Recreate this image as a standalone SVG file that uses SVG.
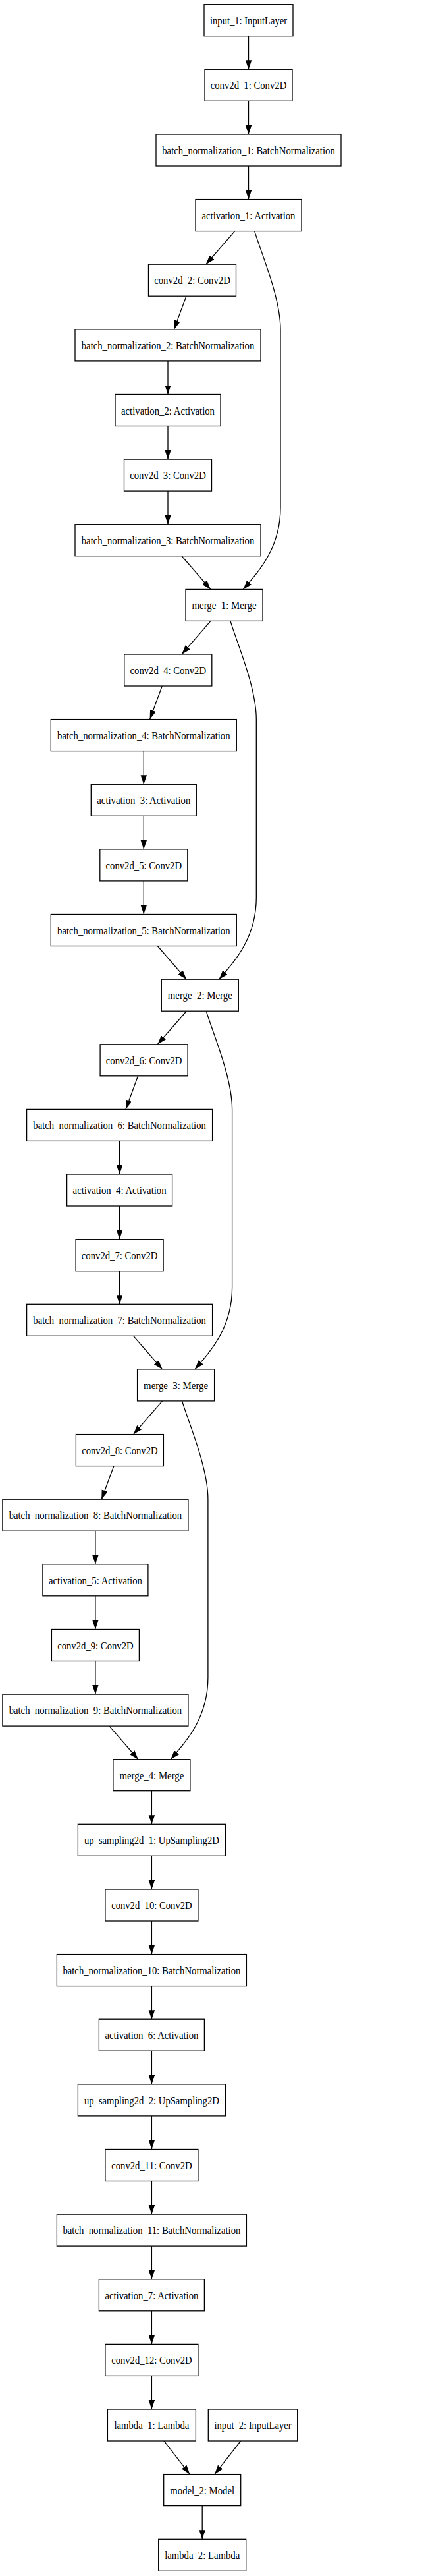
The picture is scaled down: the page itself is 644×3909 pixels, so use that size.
<svg xmlns="http://www.w3.org/2000/svg" width="644" height="3909" viewBox="0 0 644 3909">
<style>
.n rect{fill:#fff;stroke:#000;stroke-width:1.3}
.n text{font-family:"Liberation Serif","Times New Roman",serif;font-size:17.5px;text-anchor:middle;fill:#000}
.e path{fill:none;stroke:#000;stroke-width:1.3;marker-end:url(#ah)}
</style>
<defs>
<marker id="ah" markerUnits="userSpaceOnUse" markerWidth="15" markerHeight="10" refX="14" refY="4.7" orient="auto"><path d="M0,0 L14,4.7 L0,9.4 z" fill="#000"/></marker>
</defs>
<rect x="0" y="0" width="644" height="3909" fill="#fff"/>
<g id="edges" class="e">
<path d="M377.5,54.7 L377.5,105.3"/>
<path d="M377.5,153.3 L377.5,204"/>
<path d="M377.5,252 L377.5,302.6"/>
<path d="M356.7,350.6 L312.7,401.2"/>
<path d="M283,449.2 L264.3,499.9"/>
<path d="M255,547.9 L255,598.5"/>
<path d="M255,646.5 L255,697.1"/>
<path d="M255,745.1 L255,795.7"/>
<path d="M276,843.7 L320,894.4"/>
<path d="M386.7,350.6 C395,380 426,450 426,500 L426,770 C426,830 395,865 369.3,894.4"/>
<path d="M320,942.4 L276,993"/>
<path d="M246.3,1041 L227.6,1091.6"/>
<path d="M218.3,1139.6 L218.3,1190.3"/>
<path d="M218.3,1238.3 L218.3,1288.9"/>
<path d="M218.3,1336.9 L218.3,1387.5"/>
<path d="M239.3,1435.5 L283.3,1486.2"/>
<path d="M350,942.4 C358.3,971.8 389.3,1041.8 389.3,1091.8 L389.3,1361.8 C389.3,1421.8 358.3,1456.8 332.6,1486.2"/>
<path d="M283.3,1534.2 L239.3,1584.8"/>
<path d="M209.6,1632.8 L190.9,1683.4"/>
<path d="M181.6,1731.4 L181.6,1782"/>
<path d="M181.6,1830 L181.6,1880.7"/>
<path d="M181.6,1928.7 L181.6,1979.3"/>
<path d="M202.6,2027.3 L246.6,2077.9"/>
<path d="M313.3,1534.2 C321.6,1563.6 352.6,1633.6 352.6,1683.6 L352.6,1953.6 C352.6,2013.6 321.6,2048.6 295.9,2077.9"/>
<path d="M246.6,2125.9 L202.6,2176.6"/>
<path d="M172.9,2224.6 L154.2,2275.2"/>
<path d="M144.9,2323.2 L144.9,2373.8"/>
<path d="M144.9,2421.8 L144.9,2472.5"/>
<path d="M144.9,2520.5 L144.9,2571.1"/>
<path d="M165.9,2619.1 L209.9,2669.7"/>
<path d="M276.6,2125.9 C284.9,2155.3 315.9,2225.3 315.9,2275.3 L315.9,2545.3 C315.9,2605.3 284.9,2640.3 259.2,2669.7"/>
<path d="M230.4,2717.7 L230.4,2768.3"/>
<path d="M230.4,2816.3 L230.4,2867"/>
<path d="M230.4,2915 L230.4,2965.6"/>
<path d="M230.4,3013.6 L230.4,3064.2"/>
<path d="M230.4,3112.2 L230.4,3162.9"/>
<path d="M230.4,3210.9 L230.4,3261.5"/>
<path d="M230.4,3309.5 L230.4,3360.1"/>
<path d="M230.4,3408.1 L230.4,3458.8"/>
<path d="M230.4,3506.8 L230.4,3557.4"/>
<path d="M230.4,3605.4 L230.4,3656"/>
<path d="M249,3704 L288.3,3754.6"/>
<path d="M365.7,3704 L326,3754.6"/>
<path d="M307.2,3802.6 L307.2,3853.3"/>
</g>
<g id="input_1" class="n"><rect x="310" y="6.7" width="135" height="48"/><text x="377.5" y="36.7" textLength="117" lengthAdjust="spacingAndGlyphs">input_1: InputLayer</text></g>
<g id="conv2d_1" class="n"><rect x="311" y="105.3" width="133" height="48"/><text x="377.5" y="135.3" textLength="115.5" lengthAdjust="spacingAndGlyphs">conv2d_1: Conv2D</text></g>
<g id="batch_normalization_1" class="n"><rect x="237" y="204" width="281" height="48"/><text x="377.5" y="234" textLength="262.5" lengthAdjust="spacingAndGlyphs">batch_normalization_1: BatchNormalization</text></g>
<g id="activation_1" class="n"><rect x="297" y="302.6" width="161" height="48"/><text x="377.5" y="332.6" textLength="142" lengthAdjust="spacingAndGlyphs">activation_1: Activation</text></g>
<g id="conv2d_2" class="n"><rect x="225.5" y="401.2" width="133" height="48"/><text x="292" y="431.2" textLength="115.5" lengthAdjust="spacingAndGlyphs">conv2d_2: Conv2D</text></g>
<g id="batch_normalization_2" class="n"><rect x="114" y="499.9" width="282" height="48"/><text x="255" y="529.9" textLength="262.5" lengthAdjust="spacingAndGlyphs">batch_normalization_2: BatchNormalization</text></g>
<g id="activation_2" class="n"><rect x="175" y="598.5" width="160" height="48"/><text x="255" y="628.5" textLength="142" lengthAdjust="spacingAndGlyphs">activation_2: Activation</text></g>
<g id="conv2d_3" class="n"><rect x="188.5" y="697.1" width="133" height="48"/><text x="255" y="727.1" textLength="115.5" lengthAdjust="spacingAndGlyphs">conv2d_3: Conv2D</text></g>
<g id="batch_normalization_3" class="n"><rect x="114" y="795.7" width="282" height="48"/><text x="255" y="825.7" textLength="262.5" lengthAdjust="spacingAndGlyphs">batch_normalization_3: BatchNormalization</text></g>
<g id="merge_1" class="n"><rect x="282" y="894.4" width="117" height="48"/><text x="340.5" y="924.4" textLength="98" lengthAdjust="spacingAndGlyphs">merge_1: Merge</text></g>
<g id="conv2d_4" class="n"><rect x="188.8" y="993" width="133" height="48"/><text x="255.3" y="1023" textLength="115.5" lengthAdjust="spacingAndGlyphs">conv2d_4: Conv2D</text></g>
<g id="batch_normalization_4" class="n"><rect x="77.3" y="1091.6" width="282" height="48"/><text x="218.3" y="1121.6" textLength="262.5" lengthAdjust="spacingAndGlyphs">batch_normalization_4: BatchNormalization</text></g>
<g id="activation_3" class="n"><rect x="138.3" y="1190.3" width="160" height="48"/><text x="218.3" y="1220.3" textLength="142" lengthAdjust="spacingAndGlyphs">activation_3: Activation</text></g>
<g id="conv2d_5" class="n"><rect x="151.8" y="1288.9" width="133" height="48"/><text x="218.3" y="1318.9" textLength="115.5" lengthAdjust="spacingAndGlyphs">conv2d_5: Conv2D</text></g>
<g id="batch_normalization_5" class="n"><rect x="77.3" y="1387.5" width="282" height="48"/><text x="218.3" y="1417.5" textLength="262.5" lengthAdjust="spacingAndGlyphs">batch_normalization_5: BatchNormalization</text></g>
<g id="merge_2" class="n"><rect x="245.3" y="1486.2" width="117" height="48"/><text x="303.8" y="1516.2" textLength="98" lengthAdjust="spacingAndGlyphs">merge_2: Merge</text></g>
<g id="conv2d_6" class="n"><rect x="152.1" y="1584.8" width="133" height="48"/><text x="218.6" y="1614.8" textLength="115.5" lengthAdjust="spacingAndGlyphs">conv2d_6: Conv2D</text></g>
<g id="batch_normalization_6" class="n"><rect x="40.6" y="1683.4" width="282" height="48"/><text x="181.6" y="1713.4" textLength="262.5" lengthAdjust="spacingAndGlyphs">batch_normalization_6: BatchNormalization</text></g>
<g id="activation_4" class="n"><rect x="101.6" y="1782" width="160" height="48"/><text x="181.6" y="1812" textLength="142" lengthAdjust="spacingAndGlyphs">activation_4: Activation</text></g>
<g id="conv2d_7" class="n"><rect x="115.1" y="1880.7" width="133" height="48"/><text x="181.6" y="1910.7" textLength="115.5" lengthAdjust="spacingAndGlyphs">conv2d_7: Conv2D</text></g>
<g id="batch_normalization_7" class="n"><rect x="40.6" y="1979.3" width="282" height="48"/><text x="181.6" y="2009.3" textLength="262.5" lengthAdjust="spacingAndGlyphs">batch_normalization_7: BatchNormalization</text></g>
<g id="merge_3" class="n"><rect x="208.6" y="2077.9" width="117" height="48"/><text x="267.1" y="2107.9" textLength="98" lengthAdjust="spacingAndGlyphs">merge_3: Merge</text></g>
<g id="conv2d_8" class="n"><rect x="115.4" y="2176.6" width="133" height="48"/><text x="181.9" y="2206.6" textLength="115.5" lengthAdjust="spacingAndGlyphs">conv2d_8: Conv2D</text></g>
<g id="batch_normalization_8" class="n"><rect x="3.9" y="2275.2" width="282" height="48"/><text x="144.9" y="2305.2" textLength="262.5" lengthAdjust="spacingAndGlyphs">batch_normalization_8: BatchNormalization</text></g>
<g id="activation_5" class="n"><rect x="64.9" y="2373.8" width="160" height="48"/><text x="144.9" y="2403.8" textLength="142" lengthAdjust="spacingAndGlyphs">activation_5: Activation</text></g>
<g id="conv2d_9" class="n"><rect x="78.4" y="2472.5" width="133" height="48"/><text x="144.9" y="2502.5" textLength="115.5" lengthAdjust="spacingAndGlyphs">conv2d_9: Conv2D</text></g>
<g id="batch_normalization_9" class="n"><rect x="3.9" y="2571.1" width="282" height="48"/><text x="144.9" y="2601.1" textLength="262.5" lengthAdjust="spacingAndGlyphs">batch_normalization_9: BatchNormalization</text></g>
<g id="merge_4" class="n"><rect x="171.9" y="2669.7" width="117" height="48"/><text x="230.4" y="2699.7" textLength="98" lengthAdjust="spacingAndGlyphs">merge_4: Merge</text></g>
<g id="up_sampling2d_1" class="n"><rect x="118.4" y="2768.3" width="224" height="48"/><text x="230.4" y="2798.3" textLength="205" lengthAdjust="spacingAndGlyphs">up_sampling2d_1: UpSampling2D</text></g>
<g id="conv2d_10" class="n"><rect x="159.9" y="2867" width="141" height="48"/><text x="230.4" y="2897" textLength="122.5" lengthAdjust="spacingAndGlyphs">conv2d_10: Conv2D</text></g>
<g id="batch_normalization_10" class="n"><rect x="86.4" y="2965.6" width="288" height="48"/><text x="230.4" y="2995.6" textLength="270" lengthAdjust="spacingAndGlyphs">batch_normalization_10: BatchNormalization</text></g>
<g id="activation_6" class="n"><rect x="150.4" y="3064.2" width="160" height="48"/><text x="230.4" y="3094.2" textLength="142" lengthAdjust="spacingAndGlyphs">activation_6: Activation</text></g>
<g id="up_sampling2d_2" class="n"><rect x="118.4" y="3162.9" width="224" height="48"/><text x="230.4" y="3192.9" textLength="205" lengthAdjust="spacingAndGlyphs">up_sampling2d_2: UpSampling2D</text></g>
<g id="conv2d_11" class="n"><rect x="159.9" y="3261.5" width="141" height="48"/><text x="230.4" y="3291.5" textLength="122.5" lengthAdjust="spacingAndGlyphs">conv2d_11: Conv2D</text></g>
<g id="batch_normalization_11" class="n"><rect x="86.4" y="3360.1" width="288" height="48"/><text x="230.4" y="3390.1" textLength="270" lengthAdjust="spacingAndGlyphs">batch_normalization_11: BatchNormalization</text></g>
<g id="activation_7" class="n"><rect x="150.4" y="3458.8" width="160" height="48"/><text x="230.4" y="3488.8" textLength="142" lengthAdjust="spacingAndGlyphs">activation_7: Activation</text></g>
<g id="conv2d_12" class="n"><rect x="159.9" y="3557.4" width="141" height="48"/><text x="230.4" y="3587.4" textLength="122.5" lengthAdjust="spacingAndGlyphs">conv2d_12: Conv2D</text></g>
<g id="lambda_1" class="n"><rect x="163.4" y="3656" width="134" height="48"/><text x="230.4" y="3686" textLength="114" lengthAdjust="spacingAndGlyphs">lambda_1: Lambda</text></g>
<g id="input_2" class="n"><rect x="316.3" y="3656" width="135.4" height="48"/><text x="384" y="3686" textLength="117" lengthAdjust="spacingAndGlyphs">input_2: InputLayer</text></g>
<g id="model_2" class="n"><rect x="248.7" y="3754.6" width="117" height="48"/><text x="307.2" y="3784.6" textLength="97.7" lengthAdjust="spacingAndGlyphs">model_2: Model</text></g>
<g id="lambda_2" class="n"><rect x="240.7" y="3853.3" width="133" height="48"/><text x="307.2" y="3883.3" textLength="114" lengthAdjust="spacingAndGlyphs">lambda_2: Lambda</text></g>
</svg>
